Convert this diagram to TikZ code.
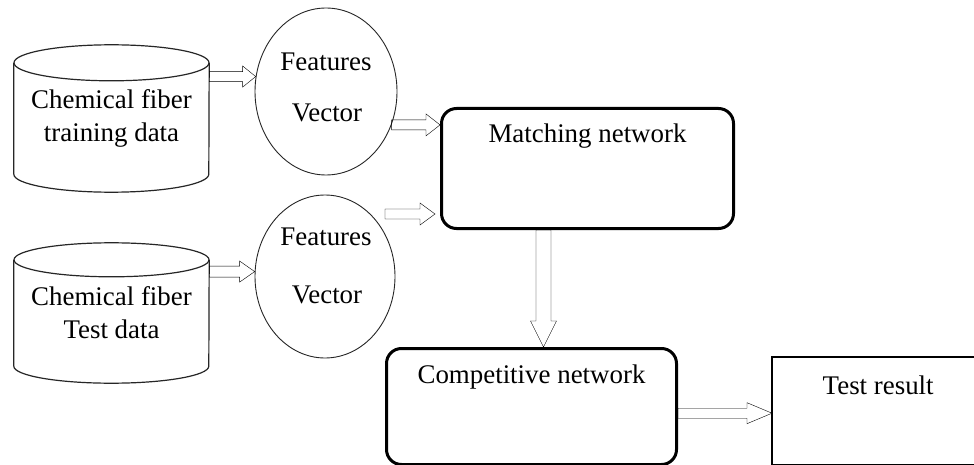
\documentclass[tikz,border=0pt]{standalone}
\usepackage{fontspec}
\setmainfont{Liberation Serif}
\usetikzlibrary{shapes.geometric,calc}

\begin{document}
\begin{tikzpicture}[x=1pt, y=-1pt,
    every node/.style={font=\fontsize{26.9pt}{33pt}\selectfont},
    dbase/.style={minimum width=195pt, inner sep=0pt, align=center},
    cylline/.style={draw=black!85, line width=1.2pt},
    feat/.style={ellipse, draw=black!85, line width=0.9pt, inner sep=0pt},
    netbox/.style={draw, line width=3pt, rounded corners=15pt, inner sep=0pt, anchor=north west},
    resbox/.style={inner sep=0pt, anchor=north west},
    blockarr/.style n args={3}{draw=black!90, line width=1.5pt, to path={
        ($(\tikztotarget)!#3!(\tikztostart)$) coordinate (hb)
        ($(\tikztostart)!#1!90:(\tikztotarget)$) -- ($(hb)!#1!90:(\tikztotarget)$)
        -- ($(hb)!#2!90:(\tikztotarget)$) -- (\tikztotarget)
        -- ($(hb)!#2!-90:(\tikztotarget)$) -- ($(hb)!#1!-90:(\tikztotarget)$)
        -- ($(\tikztostart)!#1!-90:(\tikztotarget)$) -- cycle}}]

    \path[fill=white, use as bounding box] (0,0) rectangle (974,465);

    % Data stores
    \node[dbase, minimum height=147pt] (cyl1) at (111.5,118.5) {Chemical fiber\\training data};
    \draw[cylline] ([yshift=-18pt]cyl1.north west) -- ([yshift=18pt]cyl1.south west)
        arc[start angle=180, end angle=360, x radius=97.5pt, y radius=18pt]
        -- ([yshift=-18pt]cyl1.north east);
    \draw[cylline] ([yshift=-18pt]cyl1.north) ellipse[x radius=97.5pt, y radius=18pt];

    \node[dbase, minimum height=140pt] (cyl2) at (111.5,313) {Chemical fiber\\Test data};
    \draw[cylline] ([yshift=-17pt]cyl2.north west) -- ([yshift=17pt]cyl2.south west)
        arc[start angle=180, end angle=360, x radius=97.5pt, y radius=17pt]
        -- ([yshift=-17pt]cyl2.north east);
    \draw[cylline] ([yshift=-17pt]cyl2.north) ellipse[x radius=97.5pt, y radius=17pt];

    % Feature vectors
    \node[feat, minimum width=142pt, minimum height=167pt] (fv1) at (326,91.5) {};
    \node (ft1) at (326,62) {Features};
    \node (vc1) at (327,113) {Vector};
    \node[feat, minimum width=140pt, minimum height=163pt] (fv2) at (325,276.5) {};
    \node (ft2) at (326,237) {Features};
    \node (vc2) at (327,295) {Vector};

    % Networks
    \node[netbox, minimum width=292pt, text height=34pt, text depth=86pt] (mat) at (440,107) {Matching network};
    \node[netbox, minimum width=290pt, text height=35pt, text depth=81pt] (comp) at (385,347) {Competitive network};
    % result box runs past the right margin
    \node[resbox, text height=37pt, text depth=70pt] (test) at (772,357) {\makebox[212pt]{Test result}};
    \draw[line width=1.2pt] (test.north east) -- (test.north west) -- (test.south west) -- (test.south east);

    % Arrows
    \draw (fv1.168 -| cyl1.east) to[blockarr={5pt}{10.5pt}{13pt}] (fv1.168);
    \draw (fv2.176 -| cyl2.east) to[blockarr={5.5pt}{10.5pt}{15pt}] (fv2.176);
    \draw (fv1.-27) to[blockarr={5pt}{11pt}{14pt}] (fv1.-27 -| mat.west);
    \coordinate (gap1) at (385,214);
    \coordinate (gap2) at (435,214);
    \draw (gap1) to[blockarr={5pt}{11pt}{15pt}] (gap2);
    \draw ([xshift=-44pt]mat.south) to[blockarr={7.5pt}{13pt}{26pt}] ([xshift=12pt]comp.north);
    \coordinate (rin) at ([yshift=-2.5pt]test.west);
    \draw (comp.east |- rin) to[blockarr={5pt}{10.5pt}{25pt}] (rin);
\end{tikzpicture}
\end{document}
